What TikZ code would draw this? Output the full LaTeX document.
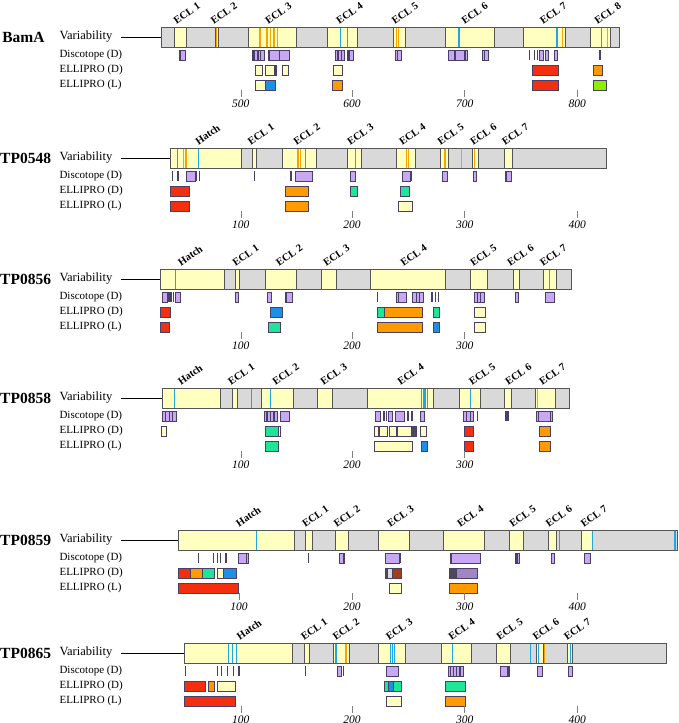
\documentclass[tikz,border=0pt]{standalone}
\usepackage{fontspec}
\setmainfont{Liberation Serif}
\definecolor{barg}{HTML}{D9D9D9}
\definecolor{yel}{HTML}{FFFFC0}
\definecolor{edge}{HTML}{555555}
\definecolor{vor}{HTML}{F5A500}
\definecolor{vbl}{HTML}{1FA8E0}
\definecolor{disc}{HTML}{C8A8F2}
\definecolor{discE}{HTML}{4A3F66}
\definecolor{cred}{HTML}{F2300F}
\definecolor{cor}{HTML}{FF9A00}
\definecolor{cgr}{HTML}{1FE596}
\definecolor{cbl}{HTML}{1E8FE6}
\definecolor{clime}{HTML}{8EEE00}
\definecolor{cbr}{HTML}{A0401A}
\definecolor{cdk}{HTML}{4A4A5A}
\newcommand\barbg[2]{\fill[barg] (#1,-10) rectangle (#2,10);}
\newcommand\barout[2]{\draw[edge,line width=0.7pt] (#1,-10) rectangle (#2,10);}
\newcommand\yl[2]{\filldraw[fill=yel,draw=edge,line width=0.6pt] (#1,-10) rectangle (#2,10);}
\newcommand\vln[2][vor]{\draw[#1,line width=1.1pt] (#2,-10) -- (#2,10);}
\newcommand\db[2]{\filldraw[fill=disc,draw=discE,line width=0.5pt] (#1,13) rectangle (#2,23);}
\newcommand\dt[1]{\fill[discE] ({#1-1.5},13) rectangle ({#1+1.5},23);}
\newcommand\ed[3]{\filldraw[fill=#1,draw=discE,line width=0.5pt] (#2,28) rectangle (#3,38);}
\newcommand\el[3]{\filldraw[fill=#1,draw=discE,line width=0.5pt] (#2,43) rectangle (#3,53);}
\newcommand\lab[2]{\node[rotate=35,anchor=south west,inner sep=0pt,font=\fontsize{10.5}{10.5}\selectfont\bfseries] at (#1,-12) {#2};}
\newcommand\tk[2]{\draw[gray,line width=0.4pt] (#1,53) -- (#1,60); \node[font=\fontsize{11.5}{11.5}\selectfont\itshape,inner sep=0pt] at (#1,67) {#2};}
\newcommand\panel[3]{%
  \node[anchor=west,inner sep=0pt,font=\fontsize{15.5}{15.5}\selectfont\bfseries] at (#3,0) {#1};
  \node[anchor=west,inner sep=0pt,font=\fontsize{12.5}{12.5}\selectfont] at (136,0) {Variability};
  \draw[line width=0.9pt] (277,0) -- (#2,0);
  \node[anchor=west,inner sep=0pt,font=\fontsize{11}{11}\selectfont] at (136,18) {Discotope (D)};
  \node[anchor=west,inner sep=0pt,font=\fontsize{11}{11}\selectfont] at (136,33) {ELLIPRO (D)};
  \node[anchor=west,inner sep=0pt,font=\fontsize{11}{11}\selectfont] at (136,48) {ELLIPRO (L)};
}
\begin{document}
\begin{tikzpicture}[x=0.4363pt,y=-1pt]
\useasboundingbox (0,0) rectangle (1554,723);
% BamA
\begin{scope}[shift={(0,37)}]
\panel{BamA}{370}{5}
\barbg{370}{1420}
\yl{400}{427}\yl{493}{500}\yl{568}{680}\yl{750}{820}\yl{902}{928}\yl{1020}{1133}\yl{1200}{1295}\yl{1352}{1398}
\vln{497}\vln{596}\vln{612}\vln{620}\vln{628}\vln{636}\vln{908}\vln{914}\vln{1290}\vln{1392}
\vln[vbl]{780}\vln[vbl]{797}\vln[vbl]{1052}\vln[vbl]{1275}\vln[vbl]{1278}\vln[vbl]{1378}
\barout{370}{1420}
\lab{405}{ECL 1}\lab{490}{ECL 2}\lab{615}{ECL 3}\lab{778}{ECL 4}\lab{905}{ECL 5}\lab{1065}{ECL 6}\lab{1245}{ECL 7}\lab{1370}{ECL 8}
\db{410}{425}\dt{414}\db{578}{590}\dt{582}\db{592}{605}\dt{597}\db{614}{640}\db{640}{662}\dt{618}
\db{768}{790}\dt{775}\dt{783}\db{795}{810}\dt{800}\db{907}{920}\dt{911}\db{1028}{1040}\db{1043}{1070}\dt{1066}\db{1105}{1120}\dt{1110}
\dt{1213}\dt{1225}\dt{1232}\db{1237}{1245}\db{1250}{1256}\db{1270}{1278}\dt{1375}
\ed{yel}{586}{600}\ed{yel}{609}{628}\ed{yel}{630}{633}\ed{yel}{648}{660}\ed{yel}{763}{784}\ed{cred}{1220}{1280}\ed{cor}{1360}{1380}
\el{yel}{586}{608}\el{cbl}{608}{632}\el{cor}{762}{785}\el{cred}{1220}{1280}\el{clime}{1360}{1390}
\tk{552}{500}\tk{807}{600}\tk{1065}{700}\tk{1323}{800}
\end{scope}
% TP0548
\begin{scope}[shift={(0,158)}]
\panel{TP0548}{390}{0}
\barbg{390}{1390}
\yl{390}{553}\yl{578}{588}\yl{647}{725}\yl{795}{828}\yl{908}{952}\yl{1010}{1028}\yl{1083}{1096}\yl{1155}{1175}
\vln{420}\vln{425}\vln{428}\vln{683}\vln{688}\vln{932}\vln{936}\vln{1018}\vln{1022}\vln{1058}\vln{1088}
\vln[vbl]{407}\vln[vbl]{455}\vln[vbl]{700}\vln[vbl]{815}
\barout{390}{1390}
\lab{455}{Hatch}\lab{575}{ECL 1}\lab{680}{ECL 2}\lab{803}{ECL 3}\lab{922}{ECL 4}\lab{1010}{ECL 5}\lab{1085}{ECL 6}\lab{1158}{ECL 7}
\dt{395}\dt{408}\db{427}{447}\dt{450}\dt{457}\dt{583}\dt{667}\db{677}{715}\db{802}{815}\db{923}{940}\dt{942}\db{1013}{1026}\db{1085}{1092}\db{1157}{1172}\dt{1160}
\ed{cred}{390}{434}\ed{cor}{653}{707}\ed{cgr}{802}{818}\ed{cgr}{918}{937}
\el{cred}{390}{434}\el{cor}{653}{707}\el{yel}{912}{946}
\tk{552}{100}\tk{807}{200}\tk{1065}{300}\tk{1323}{400}
\end{scope}
% TP0856
\begin{scope}[shift={(0,279)}]
\panel{TP0856}{367}{0}
\barbg{367}{1310}
\yl{367}{513}\yl{540}{548}\yl{607}{680}\yl{736}{770}\yl{849}{1020}\yl{1077}{1117}\yl{1177}{1190}\yl{1245}{1275}
\vln[vbl]{402}\vln[vbl]{1260}
\barout{367}{1310}
\lab{415}{Hatch}\lab{540}{ECL 1}\lab{640}{ECL 2}\lab{748}{ECL 3}\lab{925}{ECL 4}\lab{1085}{ECL 5}\lab{1170}{ECL 6}\lab{1245}{ECL 7}
\db{372}{383}\dt{387}\dt{392}\dt{398}\db{402}{413}\db{540}{546}\db{612}{622}\db{654}{670}\dt{657}\dt{865}\db{909}{930}\dt{913}\db{944}{970}\dt{955}\dt{962}\dt{990}\dt{998}\dt{1005}\db{1088}{1110}\dt{1095}\dt{1102}\db{1180}{1188}\db{1250}{1270}
\ed{cred}{367}{390}\ed{cbl}{620}{646}\ed{cgr}{864}{880}\ed{cor}{880}{968}\ed{cgr}{993}{1007}\ed{yel}{1087}{1113}
\el{cred}{367}{387}\el{cgr}{614}{642}\el{cor}{864}{968}\el{cbl}{993}{1007}\el{yel}{1087}{1113}
\tk{552}{100}\tk{807}{200}\tk{1065}{300}
\end{scope}
% TP0858
\begin{scope}[shift={(0,398)}]
\panel{TP0858}{372}{0}
\barbg{372}{1305}
\yl{372}{505}\yl{532}{545}\yl{600}{672}\yl{728}{762}\yl{842}{993}\yl{1052}{1100}\yl{1157}{1172}\yl{1226}{1272}
\vln[vbl]{400}\vln[vbl]{577}\vln[vbl]{619}\vln[vbl]{966}\vln[vbl]{970}\vln[vbl]{974}\vln[vbl]{980}\vln[vbl]{1078}\vln{1232}
\barout{372}{1305}
\lab{415}{Hatch}\lab{530}{ECL 1}\lab{632}{ECL 2}\lab{742}{ECL 3}\lab{918}{ECL 4}\lab{1082}{ECL 5}\lab{1165}{ECL 6}\lab{1243}{ECL 7}
\db{372}{405}\dt{380}\dt{388}\dt{396}\db{606}{636}\dt{612}\dt{620}\dt{628}\db{642}{663}\db{860}{872}\dt{880}\dt{886}\db{890}{898}\db{907}{927}\dt{935}\dt{944}\db{964}{972}\db{1062}{1085}\dt{1070}\dt{1078}\dt{1094}\dt{1158}\dt{1162}\db{1230}{1265}\dt{1234}\dt{1262}
\ed{yel}{370}{380}\ed{cgr}{607}{637}\ed{yel}{637}{642}\ed{yel}{857}{868}\ed{yel}{870}{888}\ed{yel}{892}{908}\ed{yel}{910}{943}\ed{cdk}{943}{953}\ed{yel}{963}{978}\ed{cred}{1065}{1085}\dt{1165}\ed{cor}{1235}{1262}
\el{cgr}{607}{637}\el{yel}{858}{944}\el{cbl}{966}{980}\el{cred}{1065}{1085}\el{cor}{1235}{1262}
\tk{552}{100}\tk{807}{200}\tk{1065}{300}
\end{scope}
% TP0859
\begin{scope}[shift={(0,540)}]
\panel{TP0859}{408}{0}
\barbg{408}{1552}
\yl{408}{675}\yl{700}{715}\yl{768}{798}\yl{868}{937}\yl{1016}{1110}\yl{1167}{1200}\yl{1257}{1275}\yl{1333}{1357}
\vln[vbl]{587}\vln[vbl]{1283}\vln[vbl]{1357}\vln[vbl]{1547}
\barout{408}{1552}
\lab{548}{Hatch}\lab{700}{ECL 1}\lab{772}{ECL 2}\lab{895}{ECL 3}\lab{1055}{ECL 4}\lab{1175}{ECL 5}\lab{1258}{ECL 6}\lab{1338}{ECL 7}
\dt{455}\dt{490}\dt{498}\dt{505}\dt{518}\db{545}{570}\dt{547}\dt{565}\dt{707}\db{778}{790}\dt{787}\db{882}{915}\dt{918}\db{1032}{1100}\dt{1035}\db{1180}{1190}\dt{1185}\db{1263}{1270}\db{1340}{1352}
\ed{cred}{408}{437}\ed{cor}{437}{463}\ed{cgr}{463}{490}\ed{yel}{497}{512}\ed{cbl}{512}{542}\ed{cdk}{883}{888}\ed{barg}{888}{900}\ed{cbr}{900}{920}\ed{cdk}{1030}{1045}\ed{disc!80!black}{1045}{1095}
\el{cred}{408}{547}\el{yel}{892}{920}\el{cor}{1030}{1095}
\tk{548}{100}\tk{807}{200}\tk{1065}{300}\tk{1323}{400}
\end{scope}
% TP0865
\begin{scope}[shift={(0,653)}]
\panel{TP0865}{422}{0}
\barbg{422}{1527}
\yl{422}{670}\yl{697}{710}\yl{765}{800}\yl{868}{930}\yl{1012}{1080}\yl{1137}{1170}\yl{1230}{1245}\yl{1300}{1312}
\vln[vbl]{523}\vln[vbl]{532}\vln[vbl]{542}\vln[vbl]{770}\vln[vbl]{896}\vln[vbl]{900}\vln[vbl]{904}\vln[vbl]{1037}\vln[vbl]{1216}\vln[vbl]{1235}\vln[vbl]{1308}\vln{793}\vln{1247}
\barout{422}{1527}
\lab{550}{Hatch}\lab{697}{ECL 1}\lab{770}{ECL 2}\lab{892}{ECL 3}\lab{1035}{ECL 4}\lab{1145}{ECL 5}\lab{1228}{ECL 6}\lab{1300}{ECL 7}
\dt{425}\dt{498}\dt{508}\dt{522}\dt{535}\dt{548}\dt{700}\db{772}{782}\dt{788}\db{885}{912}\db{1028}{1062}\dt{1033}\dt{1040}\dt{1047}\dt{1054}\db{1147}{1167}\dt{1164}\db{1232}{1242}\db{1303}{1311}
\ed{cred}{422}{470}\ed{cor}{478}{491}\ed{yel}{498}{540}\ed{cgr}{880}{890}\ed{cbl}{890}{902}\ed{cgr}{902}{920}\ed{cgr}{1020}{1067}
\el{cred}{422}{540}\el{yel}{886}{920}\el{cor}{1020}{1067}
\tk{552}{100}\tk{807}{200}\tk{1065}{300}\tk{1323}{400}
\end{scope}
\end{tikzpicture}
\end{document}
